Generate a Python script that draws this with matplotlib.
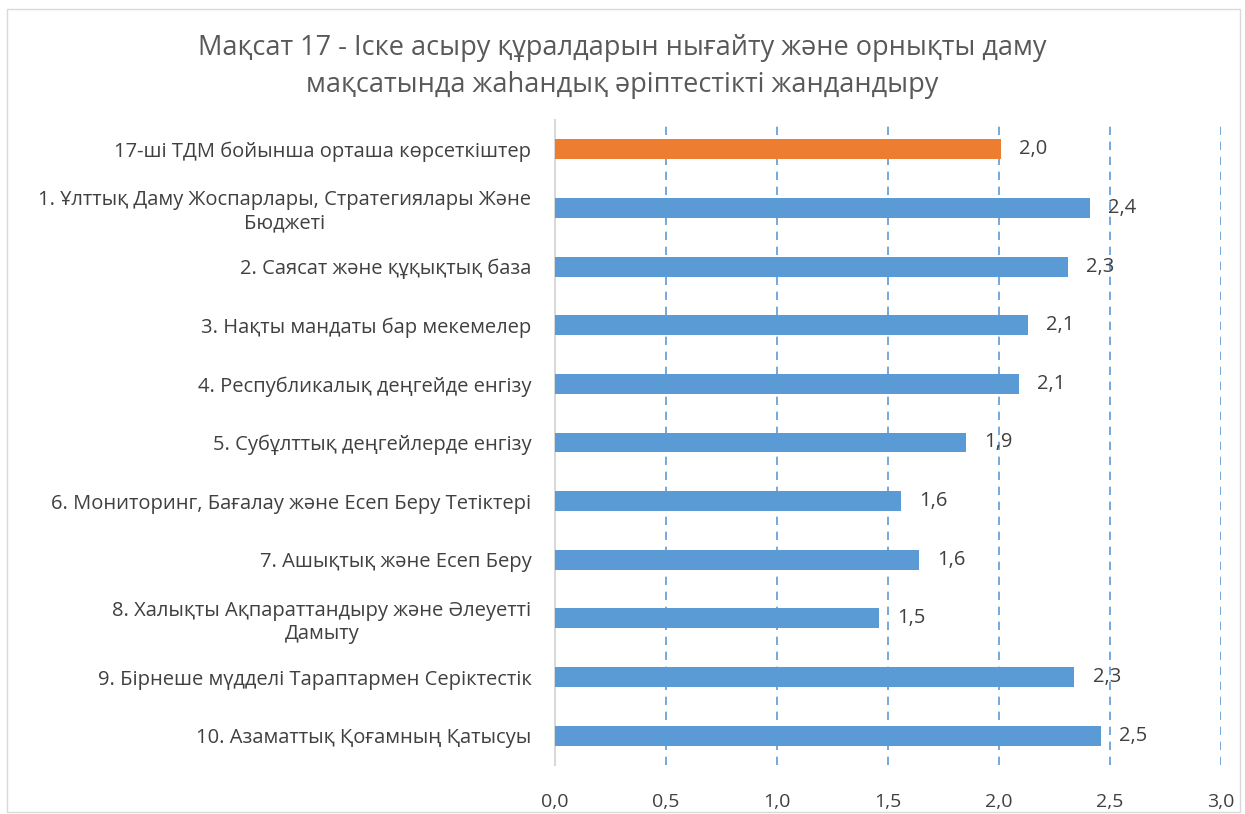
import matplotlib.pyplot as plt
from matplotlib.patches import Rectangle

plt.rcParams['font.family'] = ['Open Sans', 'DejaVu Sans']

# Data
categories = [
    '17-ші ТДМ бойынша орташа көрсеткіштер',
    '1. Ұлттық Даму Жоспарлары, Стратегиялары Және\nБюджеті',
    '2. Саясат және құқықтық база',
    '3. Нақты мандаты бар мекемелер',
    '4. Республикалық деңгейде енгізу',
    '5. Субұлттық деңгейлерде енгізу',
    '6. Мониторинг, Бағалау және Есеп Беру Тетіктері',
    '7. Ашықтық және Есеп Беру',
    '8. Халықты Ақпараттандыру және Әлеуетті\nДамыту',
    '9. Бірнеше мүдделі Тараптармен Серіктестік',
    '10. Азаматтық Қоғамның Қатысуы',
]
values = [2.01, 2.41, 2.31, 2.13, 2.09, 1.85, 1.56, 1.64, 1.46, 2.34, 2.46]
colors = ['#ED7D31'] + ['#5B9BD5'] * 10
xticks = [0.0, 0.5, 1.0, 1.5, 2.0, 2.5, 3.0]

title = ('Мақсат 17 - Іске асыру құралдарын нығайту және орнықты даму\n'
         'мақсатында жаһандық әріптестікті жандандыру')

fig = plt.figure(figsize=(12.45, 8.14), dpi=100)
fig.patches.append(Rectangle((0.006, 0.002), 0.99, 0.987, transform=fig.transFigure,
                             fill=False, edgecolor='#D9D9D9', linewidth=1))
ax = fig.add_axes([0.4458, 0.0602, 0.5349, 0.7924])

ypos = list(range(len(categories)))
ax.barh(ypos, values, height=0.34, color=colors, zorder=3)

for y, v in zip(ypos, values):
    ax.annotate(f'{v:.1f}'.replace('.', ','), (v, y), xytext=(13, 0),
                textcoords='offset points', va='center', ha='left',
                fontsize=14.5, color='#404040', zorder=4)

ax.set_xlim(0, 3.0)
ax.set_ylim(10.5, -0.5)
ax.set_yticks(ypos)
ax.set_yticklabels(categories, fontsize=14.5, color='#404040')
for lab in ax.get_yticklabels():
    lab.set_multialignment('center')
ax.set_xticks(xticks)
ax.set_xticklabels([f'{t:.1f}'.replace('.', ',') for t in xticks],
                   fontsize=14, color='#404040')
ax.tick_params(axis='both', length=0)
ax.tick_params(axis='x', pad=20)
ax.tick_params(axis='y', pad=17)

for t in xticks[1:]:
    ax.axvline(t, color='#5B9BD5', linestyle=(0, (5, 4)), linewidth=1.2, zorder=1)

for s in ['top', 'right', 'bottom']:
    ax.spines[s].set_visible(False)
ax.spines['left'].set_color('#D9D9D9')
ax.spines['left'].set_linewidth(1.5)

fig.text(0.5, 0.918, title, ha='center', va='center', fontsize=19.5,
         color='#595959', linespacing=1.45)

fig.savefig('out.png', dpi=100)
